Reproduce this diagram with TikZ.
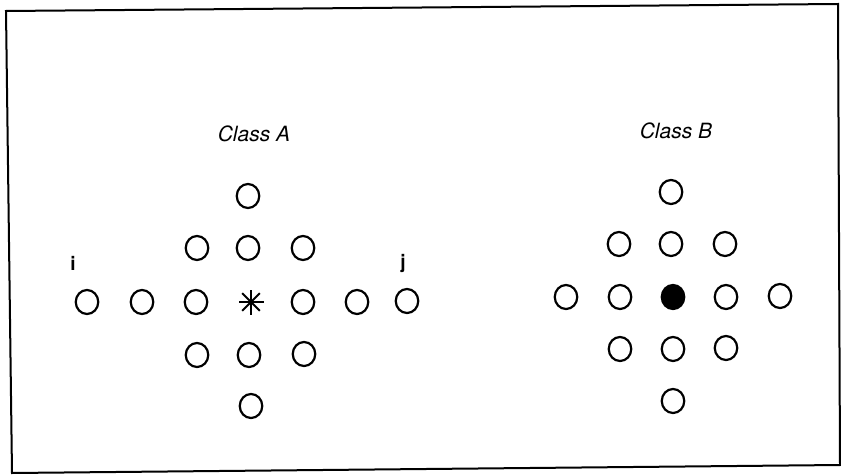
\documentclass[tikz,border=0pt]{standalone}
\usepackage{fontspec}
\setmainfont{TeX Gyre Heros}
\usetikzlibrary{shapes.geometric,calc}
\begin{document}
\begin{tikzpicture}[x=1pt,y=-1pt,
  cell/.style={draw=black,line width=2.2pt,ellipse,minimum width=22.5pt,minimum height=24pt,inner sep=0pt},
  filledcell/.style={cell,fill=black},
  classlabel/.style={font=\fontsize{21}{24}\selectfont\itshape,anchor=base,inner sep=0pt},
  idx/.style={font=\fontsize{19}{22}\selectfont\bfseries,anchor=base,inner sep=0pt},
  spoke/.style={line width=2pt},
  frame/.style={draw=black,line width=2pt}]
\useasboundingbox (0,0) rectangle (841,476);
\fill[white] (0,0) rectangle (841,476);
\coordinate (f1) at (6,11);
\coordinate (f2) at (838,4);
\coordinate (f3) at (840,465);
\coordinate (f4) at (12,473);
\draw[frame] (f1) -- (f2) -- (f3) -- (f4) -- cycle;
% Class A
\node[classlabel] (lA) at (254,142) {Class A};
\node[cell] (a1) at (248,196) {};
\node[cell] (a2) at (197,248) {};
\node[cell] (a3) at (248,248) {};
\node[cell] (a4) at (303,248) {};
\node[cell] (a5) at (87,302) {};
\node[cell] (a6) at (142,302) {};
\node[cell] (a7) at (196,302) {};
\coordinate (ac) at (251,302);
\node[cell] (a8) at (303,302) {};
\node[cell] (a9) at (357,302) {};
\node[cell] (a10) at (407,301) {};
\node[cell] (a11) at (197,355) {};
\node[cell] (a12) at (249,355) {};
\node[cell] (a13) at (304,354) {};
\node[cell] (a14) at (251,406) {};
\foreach \ang in {0,45,90,135}
  \draw[spoke] ($(ac)+(\ang:12.5)$) -- ($(ac)+(\ang+180:12.5)$);
\node[idx] (li) at (73,270) {i};
\node[idx] (lj) at (403,268) {j};
% Class B
\node[classlabel] (lB) at (676,139) {Class B};
\node[cell] (b1) at (671,192) {};
\node[cell] (b2) at (619,244) {};
\node[cell] (b3) at (671,244) {};
\node[cell] (b4) at (725,244) {};
\node[cell] (b5) at (566,297) {};
\node[cell] (b6) at (620,297) {};
\node[filledcell] (bc) at (673,297) {};
\node[cell] (b7) at (726,297) {};
\node[cell] (b8) at (780,296) {};
\node[cell] (b9) at (620,349) {};
\node[cell] (b10) at (673,349) {};
\node[cell] (b11) at (726,348) {};
\node[cell] (b12) at (673,401) {};
\end{tikzpicture}
\end{document}
